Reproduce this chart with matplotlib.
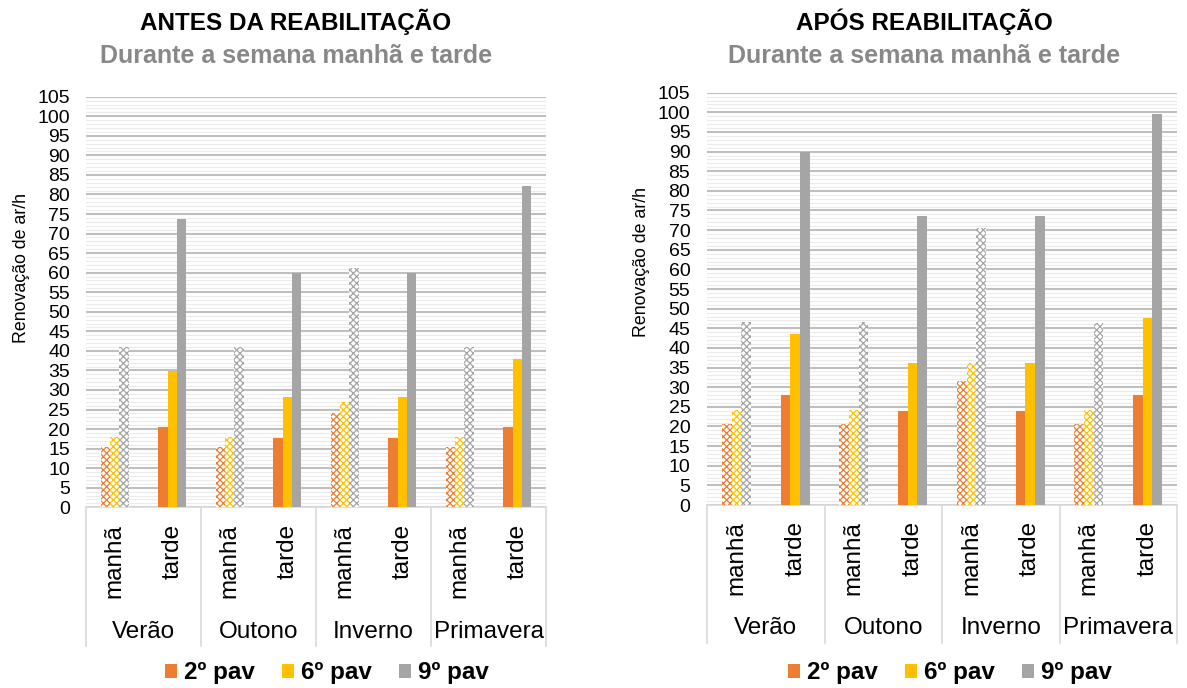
import matplotlib
matplotlib.use("Agg")
import matplotlib.pyplot as plt
from matplotlib.patches import Patch
import numpy as np

plt.rcParams['font.family'] = ['Liberation Sans', 'DejaVu Sans']
plt.rcParams['hatch.linewidth'] = 0.9

# ---- data ----
periods = ["manhã", "tarde"] * 4
seasons = ["Verão", "Outono", "Inverno", "Primavera"]
series_names = ["2º pav", "6º pav", "9º pav"]
colors = ["#ED7D31", "#FFC000", "#A5A5A5"]

antes_2 = [15.3, 20.6, 15.3, 17.7, 24.2, 17.7, 15.3, 20.6]
antes_6 = [18.1, 34.9, 18.1, 28.1, 27.0, 28.1, 18.1, 38.0]
antes_9 = [40.9, 73.7, 40.9, 59.8, 61.1, 59.8, 40.9, 82.2]

apos_2 = [20.6, 28.1, 20.6, 24.0, 31.6, 24.0, 20.6, 28.1]
apos_6 = [24.2, 43.5, 24.2, 36.2, 36.1, 36.2, 24.2, 47.6]
apos_9 = [46.5, 89.9, 46.5, 73.7, 70.6, 73.7, 46.3, 99.7]

W, H = 1187, 688
fig = plt.figure(figsize=(W / 100, H / 100), dpi=100)


def make_panel(x0, x1, ytop, ybot, series, title, title_cx, ylab_x, ylab_cy,
               ypad, legend_cx, sep_bot, season_y, period_top):
    ax = fig.add_axes([x0 / W, 1 - ybot / H, (x1 - x0) / W, (ybot - ytop) / H])
    hpix = ybot - ytop

    def ay(ypix):
        return (ybot - ypix) / hpix

    n = len(periods)
    x = np.arange(n)
    bw = 0.165
    for k, (vals, col) in enumerate(zip(series, colors)):
        for i in range(n):
            if periods[i] == "manhã":
                ax.bar(x[i] + (k - 1) * bw, vals[i], bw, facecolor="white",
                       edgecolor=col, linewidth=0, hatch="xxxxx", zorder=3)
            else:
                ax.bar(x[i] + (k - 1) * bw, vals[i], bw, color=col,
                       linewidth=0, zorder=3)

    ax.set_xlim(-0.5, n - 0.5)
    ax.set_ylim(0, 105)
    ax.set_yticks(np.arange(0, 106, 5))
    ax.set_yticks(np.arange(0, 106, 1), minor=True)
    ax.grid(axis="y", which="major", color="#BFBFBF", linewidth=1.5, zorder=1)
    ax.grid(axis="y", which="minor", color="#EBEBEB", linewidth=0.8, zorder=0)
    ax.tick_params(axis="y", which="both", length=0, labelsize=14, pad=ypad)
    ax.tick_params(axis="x", length=0, labelbottom=False)
    for s in ["top", "right", "left"]:
        ax.spines[s].set_visible(False)
    ax.spines["bottom"].set_color("#D9D9D9")
    ax.spines["bottom"].set_linewidth(1.2)

    tr = ax.get_xaxis_transform()
    for sx in [-0.5, 1.5, 3.5, 5.5, 7.5]:
        ax.plot([sx, sx], [0, ay(sep_bot)], transform=tr, color="#D9D9D9",
                linewidth=1.2, clip_on=False)
    for i in range(n):
        ax.text(x[i], ay(period_top), periods[i], transform=tr, rotation=90,
                ha="center", va="top", fontsize=17.5)
    for j, s in enumerate(seasons):
        ax.text(2 * j + 0.5, ay(season_y), s, transform=tr, ha="center",
                va="center", fontsize=17.5)

    fig.text(ylab_x / W, 1 - ylab_cy / H, "Renovação de ar/h", rotation=90,
             ha="center", va="center", fontsize=12.8)
    fig.text(title_cx / W, 1 - 22 / H, title, ha="center", va="center",
             fontsize=17.5, fontweight="bold", color="black")
    fig.text(title_cx / W, 1 - 56 / H, "Durante a semana manhã e tarde",
             ha="center", va="center", fontsize=18, fontweight="bold",
             color="#888888")

    handles = [Patch(facecolor=c, edgecolor="none") for c in colors]
    fig.legend(handles, series_names, ncol=3, loc="center",
               bbox_to_anchor=(legend_cx / W, 1 - 673 / H),
               frameon=False, handlelength=0.5, handleheight=0.5,
               handletextpad=0.3, columnspacing=1.1,
               prop={"size": 17.5, "weight": "bold"})
    return ax


make_panel(86, 546, 96.7, 507.3, [antes_2, antes_6, antes_9],
           "ANTES DA REABILITAÇÃO", 296, 22, 268, 11.5, 327, 646, 632, 524)
make_panel(707, 1177, 92.7, 505, [apos_2, apos_6, apos_9],
           "APÓS REABILITAÇÃO", 924, 642, 262, 12, 950, 643, 628, 521)

fig.savefig("out.png", dpi=100)
